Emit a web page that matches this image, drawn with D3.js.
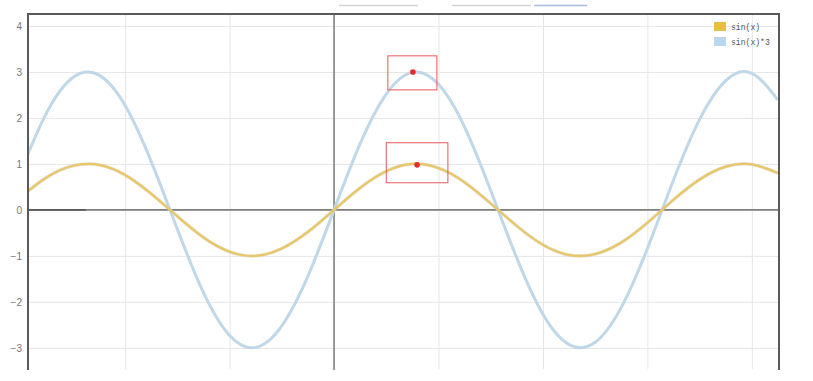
<!DOCTYPE html>
<html>
<head>
<meta charset="utf-8">
<script src="https://cdn.jsdelivr.net/npm/d3@7/dist/d3.min.js"></script>
<style>
  html, body { margin: 0; padding: 0; background: #fff; }
  svg { display: block; }
</style>
</head>
<body>
<svg id="chart" width="813" height="381"></svg>
<script>
// ---- data ----
const xValues = [-6, -5.5, -5, -4.5, -4, -3.5, -3, -2.5, -2, -1.5, -1, -0.5, 0,
  0.5, 1, 1.5, 2, 2.5, 3, 3.5, 4, 4.5, 5, 5.5, 6, 6.5, 7, 7.5, 8, 8.5];
const sinValues = [0.28, 0.71, 0.96, 0.98, 0.76, 0.35, -0.14, -0.60, -0.91, -1.00, -0.84, -0.48, 0,
  0.48, 0.84, 1.00, 0.91, 0.60, 0.14, -0.35, -0.76, -0.98, -0.96, -0.71, -0.28, 0.22, 0.66, 0.94, 0.99, 0.80];
const sin3Values = [0.84, 2.12, 2.88, 2.93, 2.27, 1.05, -0.42, -1.80, -2.73, -2.99, -2.52, -1.44, 0,
  1.44, 2.52, 2.99, 2.73, 1.80, 0.42, -1.05, -2.27, -2.93, -2.88, -2.12, -0.84, 0.65, 1.97, 2.81, 2.97, 2.39];
const seriesNames = ["sin(x)", "sin(x)*3"];
const yTicks = [-3, -2, -1, 0, 1, 2, 3, 4];
const xTicks = [-4, -2, 0, 2, 4, 6, 8];
// highlighted points and their annotation boxes [x0, x1, y0, y1]
const markX = [1.51, 1.59];
const markY = [3.0, 0.98];
const boxX0 = [1.03, 1.00];
const boxX1 = [1.97, 2.18];
const boxY0 = [2.61, 0.59];
const boxY1 = [3.35, 1.46];

// ---- layout ----
const pLeft = 28, pRight = 779, pTop = 14, pBottom = 369;
const svg = d3.select("#chart");
const x = d3.scaleLinear().domain([-5.86, 8.52]).range([pLeft, pRight]);
const y = d3.scaleLinear().domain([-3.46, 4.26]).range([pBottom, pTop]);

// decorative bars above the chart
const deco = [[339, 418, "#d2d2d2"], [452, 531, "#d2d2d2"], [534, 587, "#a3bde0"]];
svg.selectAll("line.deco").data(deco).join("line")
  .attr("x1", d => d[0]).attr("x2", d => d[1]).attr("y1", 5.5).attr("y2", 5.5)
  .attr("stroke", d => d[2]).attr("stroke-width", 1.5);

svg.append("defs").append("clipPath").attr("id", "clip")
  .append("rect").attr("x", pLeft).attr("y", pTop).attr("width", pRight - pLeft).attr("height", pBottom - pTop + 1);

// grid
const grid = svg.append("g");
grid.append("g")
  .attr("transform", `translate(${pLeft},0)`)
  .call(d3.axisLeft(y).tickValues(yTicks).tickSize(-(pRight - pLeft)).tickFormat(d => d3.format("")(d).replace("-", "\u2212")).tickPadding(6))
  .call(g => g.select(".domain").remove())
  .call(g => g.selectAll(".tick line").attr("stroke", "#e6e6e6").attr("stroke-width", 1))
  .call(g => g.selectAll(".tick text").attr("fill", "#777").attr("font-size", 10)
    .attr("font-family", "Liberation Sans, Arial, sans-serif"));
grid.append("g")
  .attr("transform", `translate(0,${pBottom})`)
  .call(d3.axisBottom(x).tickValues(xTicks.filter(v => v !== 0)).tickSize(-(pBottom - pTop)).tickFormat(""))
  .call(g => g.select(".domain").remove())
  .call(g => g.selectAll(".tick line").attr("stroke", "#e6e6e6").attr("stroke-width", 1));

// zero axes
svg.append("line").attr("x1", pLeft).attr("x2", pRight).attr("y1", y(0)).attr("y2", y(0))
  .attr("stroke", "#808080").attr("stroke-width", 1.6);
svg.append("line").attr("x1", pLeft).attr("x2", 86).attr("y1", y(0)).attr("y2", y(0))
  .attr("stroke", "#5a5a5a").attr("stroke-width", 1.8);
svg.append("line").attr("x1", x(0)).attr("x2", x(0)).attr("y1", pTop).attr("y2", pBottom + 1)
  .attr("stroke", "#808080").attr("stroke-width", 1.6);

// series
const pts = (vals) => xValues.map((v, i) => [v, vals[i]]);
const line = d3.line().x(d => x(d[0])).y(d => y(d[1])).curve(d3.curveNatural);
const plot = svg.append("g").attr("clip-path", "url(#clip)");
plot.append("path").datum(pts(sin3Values)).attr("d", line)
  .attr("fill", "none").attr("stroke", "#c0d7e8").attr("stroke-width", 3);
plot.append("path").datum(pts(sinValues)).attr("d", line)
  .attr("fill", "none").attr("stroke", "#cfc6ae").attr("stroke-width", 3.4).attr("opacity", 0.55);
plot.append("path").datum(pts(sinValues)).attr("d", line)
  .attr("fill", "none").attr("stroke", "#e8c766").attr("stroke-width", 2.2);

// annotation boxes and points
const idx = markX.map((d, i) => i);
svg.selectAll("rect.box").data(idx).join("rect")
  .attr("x", i => x(boxX0[i])).attr("y", i => y(boxY1[i]))
  .attr("width", i => x(boxX1[i]) - x(boxX0[i])).attr("height", i => y(boxY0[i]) - y(boxY1[i]))
  .attr("fill", "none").attr("stroke", "#e8585a").attr("stroke-width", 1);
svg.selectAll("circle.mark").data(idx).join("circle")
  .attr("cx", i => x(markX[i])).attr("cy", i => y(markY[i])).attr("r", 2.8)
  .attr("fill", "#e52b2b");

// frame
svg.append("path")
  .attr("d", `M${pLeft},${pBottom + 1}V${pTop}H${pRight}V${pBottom + 1}`)
  .attr("fill", "none").attr("stroke", "#5a5a5a").attr("stroke-width", 2);

// legend
const legendColors = ["#e8c040", "#b9d8ef"];
const lg = svg.append("g");
lg.selectAll("rect").data(seriesNames).join("rect")
  .attr("x", 714).attr("y", (d, i) => 22 + i * 15).attr("width", 12).attr("height", 9)
  .attr("fill", (d, i) => legendColors[i]);
lg.selectAll("text").data(seriesNames).join("text")
  .attr("x", 731).attr("y", (d, i) => 30 + i * 15)
  .attr("font-family", "Liberation Mono, DejaVu Sans Mono, monospace").attr("font-size", 9)
  .attr("textLength", d => d.length * 4.85).attr("lengthAdjust", "spacingAndGlyphs")
  .attr("fill", "#555").text(d => d);
</script>
</body>
</html>
